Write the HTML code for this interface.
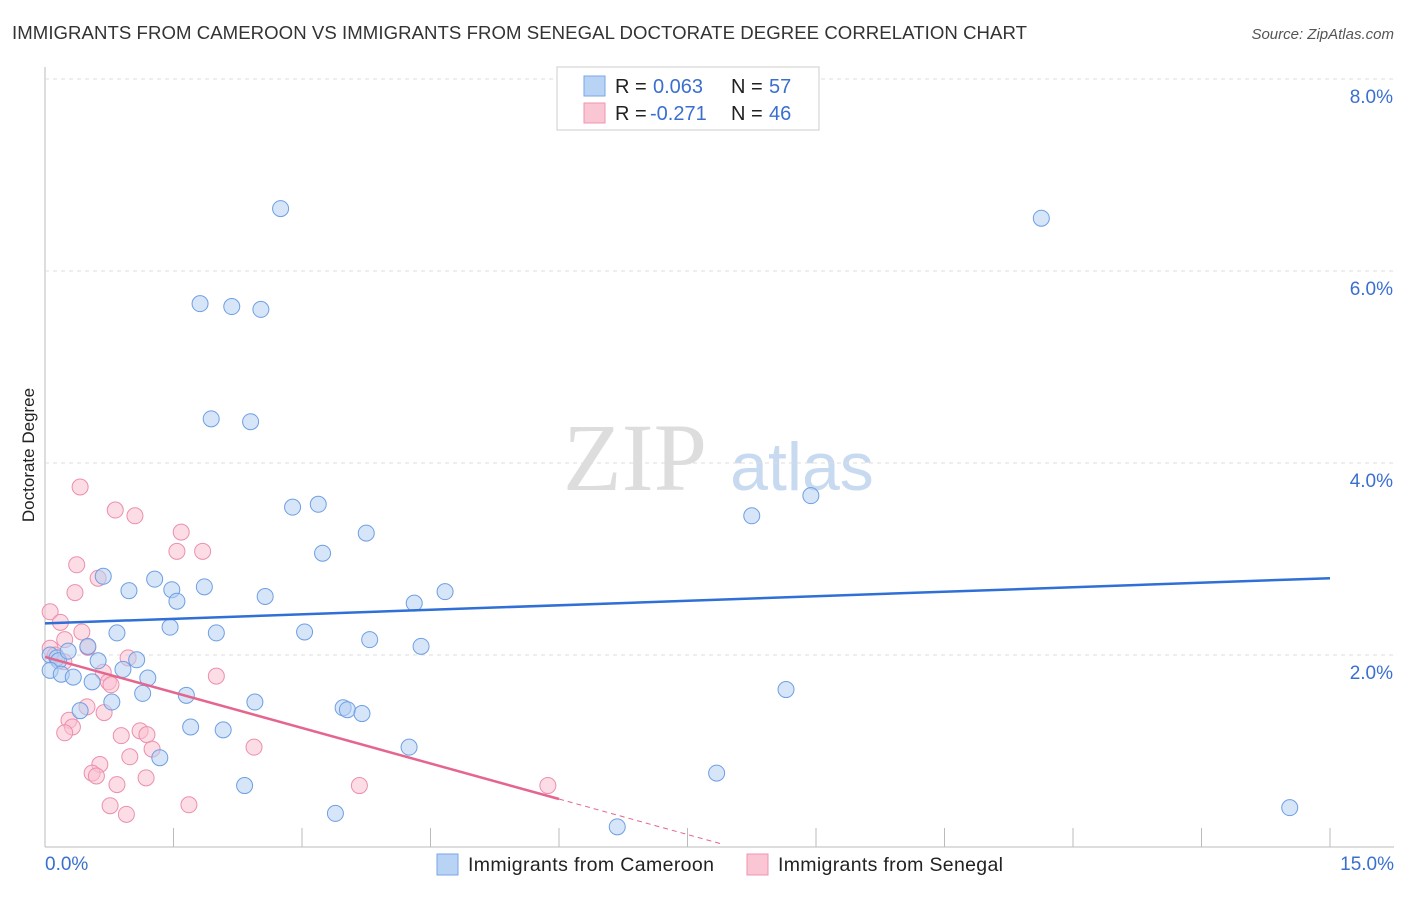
<!DOCTYPE html>
<html><head><meta charset="utf-8"><style>
body{margin:0;background:#fff;font-family:"Liberation Sans",sans-serif;}
#c{position:relative;width:1406px;height:892px;}
</style></head><body>
<div id="c">
<svg id="s" width="1406" height="892" xmlns="http://www.w3.org/2000/svg">
<text x="12" y="39" font-size="18.6" fill="#333" textLength="1015">IMMIGRANTS FROM CAMEROON VS IMMIGRANTS FROM SENEGAL DOCTORATE DEGREE CORRELATION CHART</text>
<text x="1394" y="39" font-size="15" fill="#555" font-style="italic" text-anchor="end">Source: ZipAtlas.com</text>
<text x="34" y="455" font-size="17" fill="#222" text-anchor="middle" transform="rotate(-90 34 455)">Doctorate Degree</text>
<text x="635" y="490" font-size="96" fill="#ddd" font-family="Liberation Serif,serif" text-anchor="middle">ZIP</text>
<text x="802" y="490" font-size="68" fill="#c8daf0" text-anchor="middle">atlas</text>
<g id="grid"></g><g id="pts"></g><g id="trend"></g>
<g>
<rect x="557" y="67" width="262" height="63" fill="#fff" stroke="#ccc"/>
<rect x="584" y="76" width="21" height="20" fill="#b9d3f5" stroke="#7aa6e6"/>
<rect x="584" y="103" width="21" height="20" fill="#fac6d4" stroke="#ef94b0"/>
<text x="615" y="93" font-size="20" fill="#222">R = <tspan x="653" fill="#3a6fd0">0.063</tspan></text>
<text x="731" y="93" font-size="20" fill="#222">N = <tspan x="769" fill="#3a6fd0">57</tspan></text>
<text x="615" y="120" font-size="20" fill="#222">R = <tspan x="650" fill="#3a6fd0">-0.271</tspan></text>
<text x="731" y="120" font-size="20" fill="#222">N = <tspan x="769" fill="#3a6fd0">46</tspan></text>
</g>
<g>
<rect x="437" y="854" width="21" height="21" fill="#b9d3f5" stroke="#7aa6e6"/>
<text x="468" y="871" font-size="19.5" fill="#222" textLength="246">Immigrants from Cameroon</text>
<rect x="747" y="854" width="21" height="21" fill="#fac6d4" stroke="#ef94b0"/>
<text x="778" y="871" font-size="19.5" fill="#222" textLength="225">Immigrants from Senegal</text>
</g>
</svg></div>
<script>
const blueX=[2.75,11.63,1.81,2.18,2.52,1.94,2.40,2.89,3.19,8.94,8.25,3.75,3.24,0.68,1.28,0.98,1.48,1.86,1.54,2.57,4.31,4.67,1.46,0.84,2.00,3.03,3.79,4.39,0.06,0.14,0.16,0.27,0.62,1.07,0.91,0.50,0.06,0.19,0.33,0.55,1.20,1.14,1.65,0.78,2.45,0.41,3.48,3.53,3.70,8.65,1.70,2.08,1.34,4.25,7.84,2.33,3.39,6.68,14.53];
const blueY=[6.65,6.55,5.66,5.63,5.60,4.46,4.43,3.54,3.57,3.66,3.45,3.27,3.06,2.82,2.79,2.67,2.68,2.71,2.56,2.61,2.54,2.66,2.29,2.23,2.23,2.24,2.16,2.09,2.00,1.97,1.94,2.04,1.94,1.95,1.85,2.09,1.84,1.80,1.77,1.72,1.76,1.60,1.58,1.51,1.51,1.42,1.45,1.43,1.39,1.64,1.25,1.22,0.93,1.04,0.77,0.64,0.35,0.21,0.41];
const pinkX=[0.41,0.82,1.05,1.59,1.54,1.84,0.37,0.62,0.35,0.06,0.18,0.43,0.23,0.50,0.06,0.12,0.22,0.97,0.68,0.74,0.77,2.00,0.49,0.69,0.28,0.32,0.23,1.11,1.19,0.89,1.25,2.44,0.99,0.64,0.55,0.60,1.18,0.84,3.67,5.87,0.76,1.68,0.95];
const pinkY=[3.75,3.51,3.45,3.28,3.08,3.08,2.94,2.80,2.65,2.45,2.34,2.24,2.16,2.08,2.07,2.00,1.93,1.97,1.82,1.72,1.69,1.78,1.46,1.40,1.32,1.25,1.19,1.21,1.17,1.16,1.02,1.04,0.94,0.86,0.77,0.74,0.72,0.65,0.64,0.64,0.43,0.44,0.34];
const yTicks=[2,4,6,8];
const xTicks=[0,1.5,3,4.5,6,7.5,9,10.5,12,13.5,15];
const blueTrend=[2.33,2.80];
const pinkTrend=[1.98,0.50];
const pinkTrendEnd=[6,7.9];
const NS='http://www.w3.org/2000/svg';
const sx=v=>45+v/15*1285, sy=v=>847-v*96;
function mk(t,a,p){const e=document.createElementNS(NS,t);for(const k in a)e.setAttribute(k,a[k]);p.appendChild(e);return e;}
const g=document.getElementById('grid'),P=document.getElementById('pts'),T=document.getElementById('trend'),S=document.getElementById('s');
let ax=mk('line',{x1:45,y1:67,x2:45,y2:847,stroke:'#bbb'},g);


let bx=mk('line',{x1:45,y1:847,x2:1394,y2:847,stroke:'#bbb'},g);


yTicks.forEach(v=>{
 const l=mk('line',{x1:45,y1:sy(v),x2:1394,y2:sy(v),stroke:'#ddd','stroke-dasharray':'4,4'},g);
 
 
 const t=mk('text',{x:1393,y:sy(v)+24,'font-size':19,fill:'#3a6fd0','text-anchor':'end'},S);
 t.textContent=v.toFixed(1)+'%';
 
 
});
xTicks.forEach(v=>{
 const l=mk('line',{x1:sx(v),y1:828,x2:sx(v),y2:847,stroke:'#bbb'},g);
 
 
});
[[0,'0.0%','start',45],[15,'15.0%','end',1394]].forEach(a=>{
 const t=mk('text',{x:a[3],y:870,'font-size':19,fill:'#3a6fd0','text-anchor':a[2]},S);
 t.textContent=a[1];
 
 
});
function dots(X,Y,f,s,n){X.forEach((x,i)=>{
 const c=mk('circle',{cx:sx(x),cy:sy(Y[i]),r:8,fill:f,stroke:s,'stroke-width':1,'fill-opacity':0.55},P);
 
 
});}
dots(pinkX,pinkY,'#f9bfd0','#ec8fad','senegal-point');
dots(blueX,blueY,'#b4cff3','#6e9fe3','cameroon-point');
let bl=mk('line',{x1:sx(0),y1:sy(blueTrend[0]),x2:sx(15),y2:sy(blueTrend[1]),stroke:'#2f6fd6','stroke-width':2.5},T);


const slope=(pinkTrend[1]-pinkTrend[0])/pinkTrendEnd[0];
let pl=mk('line',{x1:sx(0),y1:sy(pinkTrend[0]),x2:sx(pinkTrendEnd[0]),y2:sy(pinkTrend[1]),stroke:'#e5658f','stroke-width':2.5},T);


let pd=mk('line',{x1:sx(pinkTrendEnd[0]),y1:sy(pinkTrend[1]),x2:sx(pinkTrendEnd[1]),y2:sy(pinkTrend[0]+slope*pinkTrendEnd[1]),stroke:'#e5658f','stroke-width':1,'stroke-dasharray':'5,4'},T);


</script>
</body></html>
